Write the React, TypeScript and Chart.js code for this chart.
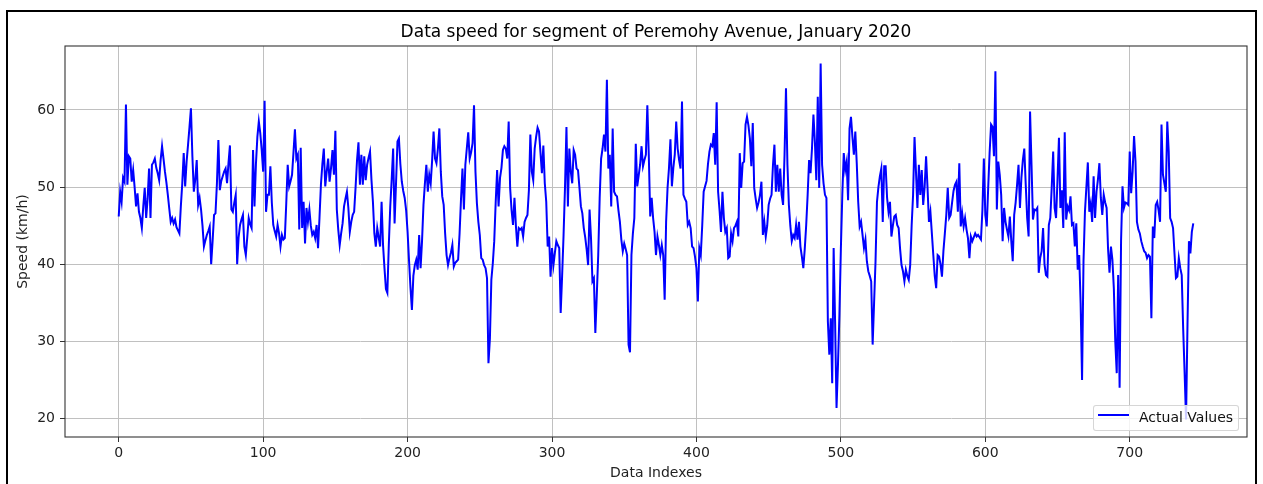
import React, { useEffect, useRef } from 'react';
import { Chart, registerables } from 'chart.js';

Chart.register(...registerables);

const FONT = '"DejaVu Sans", "Liberation Sans", sans-serif';
const TITLE = 'Data speed for segment of Peremohy Avenue, January 2020';
const X_LABEL = 'Data Indexes';
const Y_LABEL = 'Speed (km/h)';
const SERIES_LABEL = 'Actual Values';

const xTickValues = [0, 100, 200, 300, 400, 500, 600, 700];
const yTickValues = [20, 30, 40, 50, 60];
const xRange = [-37.2, 781.2];
const yRange = [17.63, 68.28];

// hourly speed values, index 0..744
const speed000 = [
  46.2, 49.4, 48.1, 51.2, 50.7, 60.7, 50.3, 54.0, 53.7, 50.7,
  52.2, 50.0, 47.5, 49.2, 46.8, 46.0, 44.7, 47.5, 49.9, 46.0,
  48.5, 52.4, 46.0, 52.9, 53.2, 53.7, 52.5, 51.8, 50.9, 53.5,
  55.3, 53.7, 52.0, 50.6, 49.0, 47.2, 45.5, 46.0, 45.3, 45.8,
  44.8, 44.4, 44.0, 47.5, 50.5, 54.4, 50.1, 53.3, 55.5, 57.8,
  60.2, 54.0, 49.4, 51.0, 53.5, 47.7, 48.6, 47.1, 45.0, 42.3,
  43.1, 43.8, 44.3, 44.9, 40.0, 43.0, 46.4, 46.6, 50.5, 56.1,
  49.6, 50.8, 51.4, 52.0, 52.4, 50.5, 53.1, 55.4, 47.1, 46.8,
  48.0, 49.0, 40.0, 43.5, 45.1, 45.8, 46.4, 42.3, 41.2, 43.5,
  46.0, 45.2, 44.7, 54.8, 47.5, 53.0, 56.5, 58.5, 57.0, 54.8,
];
const speed100 = [
  52.0, 61.2, 46.8, 49.0, 49.0, 52.7, 48.0, 45.1, 44.3, 43.6,
  45.1, 44.0, 42.3, 43.8, 43.2, 43.4, 47.9, 52.9, 50.1, 50.8,
  51.6, 54.5, 57.5, 53.7, 54.2, 44.5, 55.1, 44.7, 48.1, 42.7,
  47.3, 45.5, 47.1, 45.0, 43.8, 44.2, 43.4, 45.1, 42.1, 46.0,
  50.3, 53.0, 55.0, 50.1, 52.0, 53.7, 50.7, 52.5, 54.8, 51.6,
  57.3, 47.1, 44.5, 42.5, 44.0, 45.3, 47.5, 48.5, 49.4, 47.3,
  44.2, 45.5, 46.4, 46.8, 50.0, 53.5, 55.8, 50.3, 54.2, 50.3,
  54.0, 50.9, 52.9, 53.8, 54.6, 50.9, 48.1, 44.0, 42.3, 44.7,
  43.5, 42.3, 48.1, 42.5, 39.5, 36.8, 36.3, 42.5, 47.5, 51.0,
  55.0, 45.3, 50.5, 55.9, 56.3, 53.0, 50.7, 49.5, 48.6, 47.0,
];
const speed200 = [
  44.2, 40.5, 37.0, 34.1, 38.5, 39.9, 40.6, 39.3, 43.8, 39.5,
  43.0, 47.7, 50.5, 52.9, 49.4, 51.6, 50.5, 53.5, 57.2, 53.7,
  53.1, 55.0, 57.6, 52.0, 48.8, 47.7, 44.0, 41.2, 39.9, 40.8,
  41.5, 42.5, 39.7, 40.2, 40.4, 40.6, 44.0, 48.5, 52.4, 47.1,
  52.9, 55.0, 57.1, 53.7, 54.5, 55.7, 60.6, 52.0, 47.9, 45.5,
  43.8, 40.8, 40.6, 39.9, 39.5, 38.2, 27.2, 30.4, 38.0, 40.1,
  43.0, 48.0, 52.2, 47.5, 51.2, 52.5, 54.8, 55.3, 55.0, 53.7,
  58.5, 49.9, 47.0, 45.1, 48.6, 45.0, 42.3, 44.7, 44.5, 44.7,
  43.6, 45.5, 46.0, 46.4, 49.6, 56.8, 52.0, 50.9, 55.0, 56.5,
  57.7, 57.2, 54.5, 51.8, 55.4, 50.5, 48.1, 42.3, 43.6, 38.4,
];
const speed300 = [
  42.1, 39.9, 41.5, 43.0, 42.5, 42.1, 33.7, 38.5, 43.8, 50.0,
  57.8, 47.5, 55.0, 52.0, 50.5, 54.8, 54.2, 52.4, 52.2, 49.9,
  47.5, 46.6, 44.7, 43.5, 41.9, 39.9, 47.1, 43.4, 37.8, 38.2,
  31.1, 36.0, 41.2, 48.6, 53.7, 55.0, 56.8, 54.6, 63.9, 52.4,
  54.2, 47.5, 57.6, 49.4, 49.0, 48.8, 47.0, 45.5, 43.2, 41.7,
  42.7, 42.0, 41.2, 29.6, 28.6, 41.2, 44.0, 46.0, 55.6, 50.1,
  51.5, 52.9, 55.3, 52.7, 53.5, 54.2, 60.6, 54.2, 46.2, 48.6,
  46.0, 44.2, 41.2, 43.6, 42.5, 41.2, 42.5, 41.2, 35.4, 45.5,
  49.9, 52.5, 56.2, 50.1, 52.5, 54.2, 58.5, 55.0, 53.5, 52.4,
  61.1, 49.0, 48.5, 48.1, 45.1, 45.5, 44.7, 42.3, 42.1, 41.0,
];
const speed400 = [
  39.5, 35.2, 42.1, 41.2, 45.0, 49.4, 50.1, 50.8, 53.0, 54.6,
  55.5, 55.3, 57.0, 52.9, 61.0, 49.4, 47.0, 44.2, 49.4, 46.0,
  44.2, 44.7, 40.8, 41.0, 44.0, 43.0, 44.7, 45.0, 45.5, 43.6,
  54.4, 49.9, 53.1, 53.3, 58.1, 59.1, 58.0, 56.3, 52.7, 58.3,
  49.9, 48.5, 47.3, 48.0, 49.0, 50.7, 43.8, 45.5, 43.6, 45.0,
  47.7, 48.5, 49.0, 52.9, 55.5, 49.4, 52.9, 49.4, 52.4, 49.0,
  47.7, 54.2, 62.8, 52.9, 47.7, 45.0, 43.0, 43.8, 43.4, 45.1,
  43.2, 45.5, 42.3, 41.0, 39.5, 42.0, 45.1, 49.0, 53.5, 51.8,
  55.0, 59.4, 55.9, 50.9, 61.7, 49.9, 66.0, 52.9, 50.5, 49.0,
  48.6, 32.6, 28.3, 33.0, 24.6, 42.1, 32.6, 21.4, 27.0, 33.5,
];
const speed500 = [
  42.0, 49.0, 54.4, 52.2, 53.3, 48.3, 57.6, 59.1, 56.5, 54.2,
  57.2, 53.1, 48.1, 44.9, 45.5, 43.8, 42.1, 43.2, 40.4, 39.1,
  38.5, 37.8, 29.6, 35.0, 40.4, 48.1, 50.0, 51.4, 52.4, 45.5,
  52.7, 52.7, 48.6, 46.8, 48.1, 43.6, 45.0, 46.2, 46.4, 45.1,
  44.7, 42.0, 39.9, 39.1, 37.8, 39.3, 38.5, 38.0, 39.9, 45.0,
  49.0, 56.5, 52.0, 47.3, 52.9, 49.0, 52.2, 47.7, 50.0, 54.0,
  49.9, 45.5, 46.8, 44.0, 41.2, 38.5, 36.9, 41.2, 41.0, 40.0,
  38.4, 41.7, 44.0, 46.4, 49.9, 46.0, 46.4, 48.0, 49.5, 50.3,
  50.7, 46.8, 53.1, 44.9, 46.6, 44.9, 46.0, 44.5, 43.4, 40.8,
  43.6, 43.0, 43.5, 44.0, 43.6, 43.8, 43.5, 43.2, 47.0, 53.7,
];
const speed600 = [
  46.4, 44.9, 49.9, 54.5, 58.1, 57.8, 54.0, 65.0, 47.1, 53.3,
  51.6, 49.0, 43.0, 47.3, 45.5, 44.5, 43.6, 46.2, 43.0, 40.4,
  46.4, 48.0, 50.3, 52.9, 47.3, 51.2, 53.5, 55.0, 50.3, 46.0,
  43.6, 59.8, 52.9, 45.8, 47.1, 47.0, 47.3, 38.9, 40.8, 41.7,
  44.7, 40.0, 38.6, 38.4, 45.1, 46.0, 50.0, 54.6, 47.3, 46.0,
  51.0, 56.4, 47.3, 49.6, 44.7, 57.1, 45.8, 47.5, 47.0, 48.8,
  45.1, 45.3, 42.3, 45.3, 39.3, 41.2, 35.0, 25.0, 40.4, 46.8,
  50.0, 53.2, 46.8, 47.9, 45.5, 51.4, 46.0, 49.4, 51.0, 53.1,
  48.6, 46.4, 49.0, 48.0, 47.3, 42.0, 38.9, 42.3, 40.6, 36.9,
  30.0, 25.9, 38.6, 24.0, 43.0, 50.1, 47.3, 48.0, 47.9, 47.7,
];
const speed700 = [
  54.6, 49.2, 52.0, 56.6, 53.3, 45.5, 44.5, 44.0, 43.0, 42.3,
  41.7, 41.5, 40.8, 41.2, 41.0, 33.0, 44.9, 43.4, 47.7, 48.1,
  47.0, 45.5, 58.1, 51.6, 50.5, 49.4, 58.5, 54.6, 46.0, 45.5,
  44.7, 41.4, 38.2, 38.4, 40.8, 39.5, 38.6, 31.7, 26.0, 19.9,
  32.2, 43.0, 41.4, 44.2, 45.3,
];

const speedValues = [
  ...speed000, ...speed100, ...speed200, ...speed300,
  ...speed400, ...speed500, ...speed600, ...speed700,
];

const axesBoxPlugin = {
  id: 'axesBox',
  afterDatasetsDraw(chart: any) {
    const { ctx, chartArea } = chart;
    const { left, top, right, bottom } = chartArea;
    ctx.save();
    ctx.strokeStyle = '#333333';
    ctx.lineWidth = 1.1;
    ctx.strokeRect(left, top, right - left, bottom - top);
    ctx.restore();
  },
};

export default function App() {
  const canvasRef = useRef<HTMLCanvasElement | null>(null);

  useEffect(() => {
    const canvas = canvasRef.current;
    if (!canvas) return;
    const points = speedValues.map((v, i) => ({ x: i, y: v }));
    const tickFont = { family: FONT, size: 14 };
    const chart = new Chart(canvas, {
      type: 'line',
      data: {
        datasets: [
          {
            label: SERIES_LABEL,
            data: points,
            borderColor: '#0000ff',
            backgroundColor: '#0000ff',
            borderWidth: 2,
            pointRadius: 0,
            tension: 0,
            fill: false,
          },
        ],
      },
      options: {
        animation: false,
        responsive: false,
        devicePixelRatio: 1,
        parsing: false as any,
        normalized: true,
        layout: { padding: { left: 0, right: 16, top: 0, bottom: 0 } },
        plugins: {
          legend: { display: false },
          tooltip: { enabled: false },
          title: {
            display: true,
            text: TITLE,
            fullSize: false,
            color: '#000',
            font: { family: FONT, size: 17, weight: 'normal' as any },
            padding: { top: 22, bottom: 3.6 },
          },
        },
        scales: {
          x: {
            type: 'linear',
            min: xRange[0],
            max: xRange[1],
            afterFit: (s: any) => {
              s.height = 47;
            },
            afterBuildTicks: (s: any) => {
              s.ticks = xTickValues.map((v) => ({ value: v }));
            },
            grid: {
              color: '#c0c0c0',
              lineWidth: 1,
              tickColor: '#333333',
              tickLength: 5,
              drawTicks: true,
            },
            border: { display: false },
            ticks: {
              color: '#222',
              font: tickFont,
              padding: 3,
              maxRotation: 0,
              autoSkip: false,
              callback: (v: any) => String(v),
            },
            title: {
              display: true,
              text: X_LABEL,
              color: '#222',
              font: tickFont,
              padding: { top: 0, bottom: 2.1 },
            },
          },
          y: {
            type: 'linear',
            min: yRange[0],
            max: yRange[1],
            afterFit: (s: any) => {
              s.width = 65;
            },
            afterBuildTicks: (s: any) => {
              s.ticks = yTickValues.map((v) => ({ value: v }));
            },
            grid: {
              color: '#c0c0c0',
              lineWidth: 1,
              tickColor: '#333333',
              tickLength: 5,
              drawTicks: true,
            },
            border: { display: false },
            ticks: {
              color: '#222',
              font: tickFont,
              padding: 5,
              callback: (v: any) => String(v),
            },
            title: {
              display: true,
              text: Y_LABEL,
              color: '#222',
              font: tickFont,
              padding: { top: 14.6, bottom: 0 },
            },
          },
        },
      },
      plugins: [axesBoxPlugin],
    } as any);
    return () => chart.destroy();
  }, []);

  return (
    <div
      style={{
        position: 'absolute',
        left: 0,
        top: 0,
        width: 1263,
        height: 484,
        overflow: 'hidden',
        background: '#fff',
      }}
    >
      <div
        style={{
          position: 'absolute',
          left: 6,
          top: 10,
          width: 1251,
          height: 490,
          border: '2px solid #000',
          boxSizing: 'border-box',
        }}
      />
      <canvas
        ref={canvasRef}
        width={1263}
        height={484}
        style={{ position: 'absolute', left: 0, top: 0, width: 1263, height: 484 }}
      />
      <div
        style={{
          position: 'absolute',
          left: 1093,
          top: 405,
          width: 146,
          height: 26,
          boxSizing: 'border-box',
          border: '1px solid rgba(204,204,204,0.8)',
          borderRadius: 3,
          background: 'rgba(255,255,255,0.8)',
        }}
      >
        <div
          style={{
            position: 'absolute',
            left: 4,
            top: 8,
            width: 31,
            height: 2,
            background: '#0000ff',
          }}
        />
        <span
          style={{
            position: 'absolute',
            left: 45,
            top: 3,
            fontFamily: FONT,
            fontSize: 14,
            lineHeight: '16px',
            color: '#111',
            whiteSpace: 'nowrap',
          }}
        >
          {SERIES_LABEL}
        </span>
      </div>
    </div>
  );
}
